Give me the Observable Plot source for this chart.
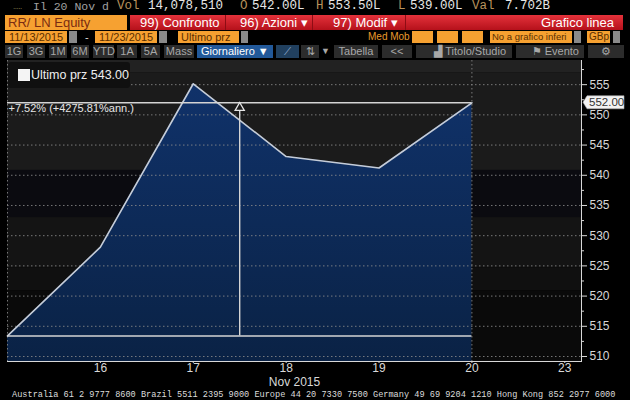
<!DOCTYPE html>
<html><head><meta charset="utf-8">
<script src="https://cdn.jsdelivr.net/npm/d3@7"></script>
<script src="https://cdn.jsdelivr.net/npm/@observablehq/plot@0.6"></script>
<style>
html,body{margin:0;padding:0;background:#000;}
#wrap{position:relative;width:630px;height:400px;overflow:hidden;background:#000;font-family:"Liberation Sans",Arial,sans-serif;}
.a{position:absolute;white-space:nowrap;box-sizing:border-box;z-index:2;}
#chart{position:absolute;left:0;top:59px;z-index:1;}
#chart svg{overflow:visible;}
</style></head><body><div id="wrap"><div id="hdr"></div><div id="chart"></div></div>
<script>
// ---- data ----
const days = ["2015-11-13","2015-11-16","2015-11-17","2015-11-18","2015-11-19","2015-11-20"];
const closes = [513.40, 528.1, 555.15, 543.1, 541.2, 552.00];
const xTickIndex = [1, 2, 3, 4, 5, 6];
const xTickLabels = ["16", "17", "18", "19", "20", "23"];
const xAxisTitle = "Nov 2015";
const yTicks = [510, 515, 520, 525, 530, 535, 540, 545, 550, 555];
const yMinorTicks = [512.5, 517.5, 522.5, 527.5, 532.5, 537.5, 542.5, 547.5, 552.5, 557.5];
const changeLabel = "+7.52% (+4275.81%ann.)";
const legendLabel = "Ultimo prz 543.00";
const quoteParts = [["Il 20 Nov d",""],["Vol","14,078,510"],["O","542.00L"],["H","553.50L"],["L","539.00L"],["Val","7.702B"]];
const footerText = "Australia 61 2 9777 8600 Brazil 5511 2395 9000 Europe 44 20 7330 7500 Germany 49 69 9204 1210 Hong Kong 852 2977 6000";
const markerAt = 2.5;

const data = days.map((d, i) => ({i, day: d, close: closes[i]}));
const start = closes[0], last = closes[closes.length - 1];
const xMax = 6.18, yMin = 509.17, yMax = 559.0;

// ---- header ----
const wrap = document.getElementById("wrap");
function el(x, y, w, h, css, text) {
  const d = document.createElement("div");
  d.className = "a";
  d.style.cssText = `left:${x}px;top:${y}px;` + (w != null ? `width:${w}px;` : "") + (h != null ? `height:${h}px;line-height:${h}px;` : "") + (css || "");
  if (text != null) d.textContent = text;
  wrap.appendChild(d);
  return d;
}
const mono = 'font-family:"Liberation Mono",monospace;font-size:12.5px;';
el(13, 0, null, 13, "color:#9a8a58;font-size:8px;letter-spacing:-0.5px;", ".....");
const qx = [[33, 0], [117, 148], [240, 252], [316, 328], [398, 410], [472, 505]];
quoteParts.forEach((p, k) => {
  if (k === 0) { el(qx[k][0], 0, null, 13, mono + "color:#a0a0a0;font-size:11.5px;", p[0]); return; }
  el(qx[k][0], 0, null, 13, mono + "color:#b8925c;", p[0]);
  el(qx[k][1], 0, null, 13, mono + "color:#e6e6e6;", p[1]);
});
// row 2
el(5, 15, 122, 15, "background:#f6a131;color:#7a2c12;font-size:13px;padding-left:3px;", "RR/ LN Equity");
el(130, 15, 493, 15, "background:linear-gradient(#e4323b,#b5111b);");
[225, 312, 405].forEach(x => el(x, 15, 1, 15, "background:#8e0c14;"));
const red = "color:#fff;font-size:13px;";
el(140, 15, null, 15, red, "99) Confronto");
el(240, 15, null, 15, red, "96) Azioni  ▾");
el(333, 15, null, 15, red, "97) Modif  ▾");
el(540, 15, 74, 15, red + "text-align:right;", "Grafico linea");
// row 3
const org = "background:#f6a131;color:#5a2e00;font-size:11px;overflow:hidden;";
const gry = "background:#8a8a8a;";
el(5, 31, 62, 12, org + "text-align:center;", "11/13/2015");
el(69, 31, 8, 12, gry);
el(85, 31, null, 12, "color:#ddd;font-size:11px;", "-");
el(95, 31, 62, 12, org + "text-align:center;", "11/23/2015");
el(159, 31, 8, 12, gry);
el(178, 31, 61, 12, org + "padding-left:3px;", "Ultimo prz");
el(241, 31, 7, 12, gry);
el(368, 31, null, 12, "color:#e89a2c;font-size:10px;", "Med Mob");
el(412, 31, 21, 12, org); el(437, 31, 21, 12, org); el(462, 31, 21, 12, org);
el(490, 31, 82, 12, org + "padding-left:2px;font-size:9.5px;", "No a grafico inferi");
el(574, 31, 7, 12, gry);
el(587, 31, 23, 12, org + "padding-left:2px;font-size:10px;", "GBp");
el(613, 31, 7, 12, gry);
// row 4
const btn = "background:#2c2c2c;color:#a8a8a8;font-size:11px;text-align:center;";
[[5,18,"1G"],[27,18,"3G"],[49,18,"1M"],[71,18,"6M"],[93,21,"YTD"],[117,20,"1A"],[141,19,"5A"],[164,30,"Mass"]]
  .forEach(b => el(b[0], 45, b[1], 13, btn, b[2]));
el(197, 45, 76, 13, "background:#22599a;color:#fff;font-size:11px;padding-left:4px;", "Giornaliero ▼");
el(276, 45, 23, 13, "background:#21405f;color:#9fb8d8;font-size:10px;text-align:center;", "⟋");
el(301, 45, 18, 13, btn, "⇅");
el(321, 45, 10, 13, "color:#a8a8a8;font-size:9px;", "▼");
el(334, 45, 44, 13, btn, "Tabella");
el(382, 45, 30, 13, btn, "<<");
el(416, 45, 96, 13, btn + "text-align:right;padding-right:6px;", "▟ Titolo/Studio");
el(516, 45, 68, 13, btn + "text-align:right;padding-right:5px;", "⚑  Evento");
el(588, 45, 36, 13, btn, "⚙");

// ---- chart ----
const NS = "http://www.w3.org/2000/svg";
const bands = [
  [556.9, yMax, "#222222"], [540.8, 556.9, "#1b1b1b"], [533.0, 540.8, "#0b0b10"],
  [524.7, 533.0, "#141414"], [520.9, 524.7, "#101010"], [yMin, 520.9, "#0a0a0a"]
];
function defsMark() {
  const defs = document.createElementNS(NS, "defs");
  defs.innerHTML = `<linearGradient id="areaGrad" x1="0" y1="0" x2="0" y2="1">
    <stop offset="0" stop-color="#10326a"/><stop offset="1" stop-color="#0a2245"/></linearGradient>`;
  return defs;
}
function tagMark(index, scales, values, dims) {
  const g = document.createElementNS(NS, "g");
  g.setAttribute("class", "last-tag");
  const y = scales.y(last);
  const x = dims.width - dims.marginRight + 2;
  g.setAttribute("transform", `translate(${x},${y})`);
  g.innerHTML = `<path d="M0,0L4,-6.5L41,-6.5L41,6.5L4,6.5Z" fill="#f2f2f2" stroke="#aaa" stroke-width="0.6"/>
    <text x="6" y="0" dy="0.35em" text-anchor="start" fill="#333" font-size="11.5">${last.toFixed(2)}</text>`;
  return g;
}

const plot = Plot.plot({
  width: 630, height: 329,
  marginTop: 1, marginBottom: 27, marginLeft: 7, marginRight: 49,
  style: {background: "transparent", color: "#d8d8d8", fontFamily: "Liberation Sans, Arial, sans-serif", fontSize: "12px", overflow: "visible"},
  x: {domain: [0, xMax], ticks: xTickIndex, tickFormat: d => xTickLabels[xTickIndex.indexOf(d)], tickSize: 2, tickPadding: 0, line: true, label: null},
  y: {domain: [yMin, yMax], axis: "right", ticks: yTicks, tickFormat: d => String(d), tickSize: 5, tickPadding: 3, line: true, label: null},
  marks: [
    defsMark,
    ...bands.map(b => Plot.rect([b], {x1: 0, x2: xMax, y1: d => d[0], y2: d => d[1], fill: b[2]})),
    Plot.areaY(data, {x: "i", y1: yMin, y2: "close", fill: "url(#areaGrad)"}),
    Plot.ruleY(yTicks, {stroke: "#8a8a8a", strokeOpacity: 0.85, strokeDasharray: "1.5,2.5"}),
    Plot.ruleX([0, 5], {stroke: "#8a8a8a", strokeOpacity: 0.85, strokeDasharray: "1.5,2.5"}),
    Plot.ruleY(yMinorTicks, {x1: xMax, x2: xMax, insetRight: -3, stroke: "#d8d8d8"}),
    Plot.line(data, {x: "i", y: "close", stroke: "#c6cdd8", strokeWidth: 1.6}),
    Plot.ruleY([start, last], {x1: 0, x2: 5, stroke: "#d4d4d4", strokeWidth: 1.6}),
    Plot.ruleX([markerAt], {y1: last, y2: start, insetTop: 8, stroke: "#d4d4d4", strokeWidth: 1.4}),
    Plot.dot([markerAt], {x: d => d, y: last, dy: 5, symbol: "triangle", r: 3.4, fill: "#1c1c1c", stroke: "#e6e6e6", strokeWidth: 1.3}),
    Plot.text([changeLabel], {x: 0, y: last, text: d => d, textAnchor: "start", dx: 1, dy: 6, fill: "#e6e6e6", fontSize: 11}),
    Plot.text([xAxisTitle], {frameAnchor: "bottom", text: d => d, dy: 24.5, fill: "#d8d8d8", fontSize: 12}),
    tagMark
  ]
});
document.getElementById("chart").appendChild(plot);
// bring the last-price tag above the axis labels
const tag = plot.querySelector(".last-tag");
if (tag) { let n = tag; while (n.parentNode && n.parentNode !== plot) n = n.parentNode; plot.appendChild(n); }

// legend box and footer
el(8, 62, 122, 26, "background:#101010;border-radius:3px;");
el(18, 69, 12, 12, "background:#f4f4f4;");
el(31, 66, null, 18, "color:#eeeeee;font-size:12.5px;", legendLabel);
el(12, 390, null, 10, 'font-family:"Liberation Mono",monospace;font-size:8.6px;color:#dcdcdc;', footerText);
</script></body></html>
